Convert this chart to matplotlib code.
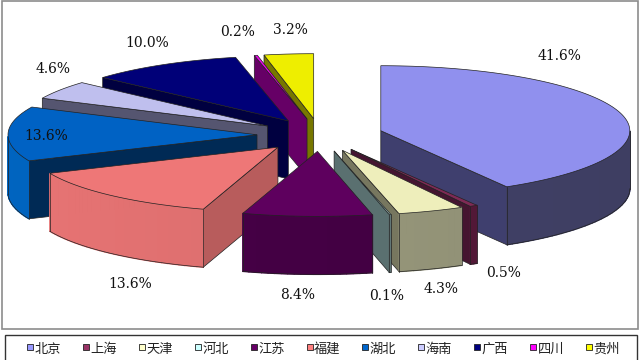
import numpy as np
import matplotlib
matplotlib.use("Agg")
import matplotlib.pyplot as plt
from matplotlib.patches import Polygon, Rectangle

plt.rcParams['font.family'] = ['Noto Sans CJK SC', 'DejaVu Sans']

provinces = ["北京", "上海", "天津", "河北", "江苏", "福建", "湖北", "海南", "广西", "四川", "贵州"]
shares = [41.6, 0.5, 4.3, 0.1, 8.4, 13.6, 13.6, 4.6, 10.0, 0.2, 3.2]

legend_colors = ["#9999FF", "#993366", "#FFFFCC", "#CCFFFF", "#660066", "#FF8080",
                 "#0066CC", "#CCCCFF", "#000080", "#FF00FF", "#FFFF00"]
top_colors = ["#9090EE", "#7F2A55", "#EEEEBB", "#C0EEEE", "#5E005E", "#EE7777",
              "#0062C4", "#BFBFEE", "#000078", "#EE00EE", "#EEEE00"]
wall_colors = ["#3F3F6E", "#451530", "#77775F", "#5A7070", "#300030", "#B85C5C",
               "#002A55", "#555570", "#000040", "#660066", "#777700"]
front_colors = ["#46466F", "#5A1A3C", "#A0A082", "#6A8080", "#480048", "#E87474",
                "#0064C0", "#6A6A88", "#000050", "#800080", "#888800"]

# label centres in pixels
label_xy = [(559, 56), (504, 273), (441, 289), (387, 296), (298, 295), (130, 284),
            (46, 136), (53, 69), (147, 43), (238, 32), (290, 30)]

cx, cy = 320, 135
rx, ry = 249, 65
explode = 63
k = 0.26
depth = 58

fig = plt.figure(figsize=(6.4, 3.6), dpi=100)
ax = fig.add_axes([0, 0, 1, 1])
ax.set_xlim(0, 640)
ax.set_ylim(360, 0)
ax.axis("off")


def shade(color, f):
    rgb = np.array(matplotlib.colors.to_rgb(color))
    return tuple(np.clip(rgb * f, 0, 1))


def poly(pts, color, edge="#222222", lw=0.5, z=1):
    ax.add_patch(Polygon(pts, closed=True, facecolor=color, edgecolor=edge, linewidth=lw, zorder=z))


total = sum(shares)
edges = np.cumsum([0] + shares) / total * 2 * np.pi
mids = (edges[:-1] + edges[1:]) / 2

# back slices first
order = np.argsort(-np.cos(mids))
for n, i in enumerate(order):
    t1, t2 = edges[i], edges[i + 1]
    ax0 = cx + explode * np.sin(mids[i])
    ay0 = cy - explode * k * np.cos(mids[i])
    ts = np.linspace(t1, t2, max(3, int((t2 - t1) * 40)))
    xs = ax0 + rx * np.sin(ts)
    ys = ay0 - ry * np.cos(ts)
    z = 2 + n * 0.1

    # radial walls
    if np.sin(t2) > 0:
        x2, y2 = ax0 + rx * np.sin(t2), ay0 - ry * np.cos(t2)
        poly([(ax0, ay0), (x2, y2), (x2, y2 + depth), (ax0, ay0 + depth)], wall_colors[i], z=z)
    if np.sin(t1) < 0:
        x1, y1 = ax0 + rx * np.sin(t1), ay0 - ry * np.cos(t1)
        poly([(ax0, ay0), (x1, y1), (x1, y1 + depth), (ax0, ay0 + depth)], wall_colors[i], z=z)

    # outer rim, only the part turned towards the viewer
    rim = [(x, y) for x, y, t in zip(xs, ys, ts) if np.cos(t) <= 0]
    for pa, pb in zip(rim[:-1], rim[1:]):
        col = shade(front_colors[i], 1.0 - 0.12 * (pa[0] / 640))
        poly([pa, pb, (pb[0], pb[1] + depth), (pa[0], pa[1] + depth)], col, edge=col, lw=1.0, z=z)
    if rim:
        ax.plot([p[0] for p in rim], [p[1] + depth for p in rim], color="#222222", lw=0.5, zorder=z)
        ax.plot([rim[0][0]] * 2, [rim[0][1], rim[0][1] + depth], color="#222222", lw=0.5, zorder=z)
        ax.plot([rim[-1][0]] * 2, [rim[-1][1], rim[-1][1] + depth], color="#222222", lw=0.5, zorder=z)

    # top face
    poly([(ax0, ay0)] + list(zip(xs, ys)), top_colors[i], z=z + 0.05)

for v, (lx, ly) in zip(shares, label_xy):
    ax.text(lx, ly, f"{v:.1f}%", ha="center", va="center", fontsize=10,
            family=["DejaVu Serif"], color="#111111", zorder=50)

# chart frame
ax.add_patch(Rectangle((2, 0.5), 635.5, 328.5, facecolor="none", edgecolor="#8C8C8C", lw=1.2, zorder=60))

# legend box
ax.add_patch(Rectangle((4.5, 334.5), 632, 30, facecolor="white", edgecolor="#333333", lw=1, zorder=60))
step = (587 - 28) / (len(provinces) - 1)
for i, name in enumerate(provinces):
    x = 27 + i * step
    ax.add_patch(Rectangle((x, 344), 6, 6, facecolor=legend_colors[i], edgecolor="#222222", lw=0.6, zorder=61))
    ax.text(x + 7.5, 349, name, ha="left", va="center", fontsize=9.5, color="#222222", zorder=61)

fig.savefig("out.png", dpi=100)
